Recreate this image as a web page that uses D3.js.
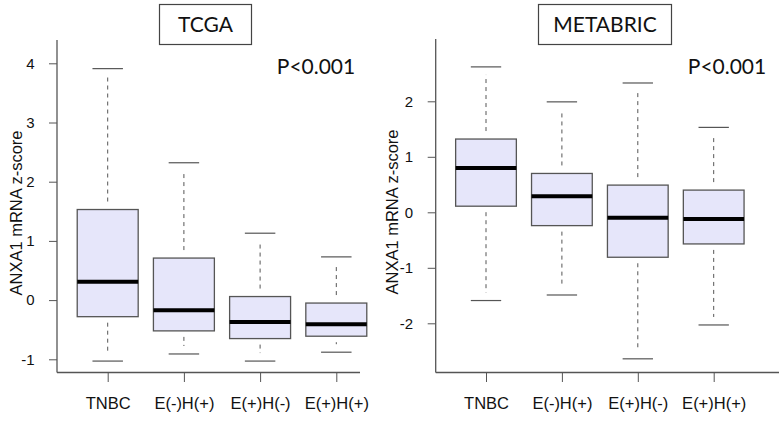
<!DOCTYPE html>
<html>
<head>
<meta charset="utf-8">
<script src="https://cdn.jsdelivr.net/npm/d3@7"></script>
<style>
  body { margin: 0; background: #fff; }
  svg { display: block; }
  .arial { font-family: 'Liberation Sans', 'Arimo', Arial, sans-serif; }
  .cal { font-family: 'Lato', 'Open Sans', sans-serif; }
</style>
</head>
<body>
<svg id="chart" width="784" height="422"></svg>
<script>
const categories = ["TNBC", "E(-)H(+)", "E(+)H(-)", "E(+)H(+)"];

// TCGA: [lower whisker, Q1, median, Q3, upper whisker]
const tcgaLow    = [-1.03, -0.91, -1.03, -0.88];
const tcgaQ1     = [-0.28, -0.52, -0.65, -0.61];
const tcgaMedian = [ 0.31, -0.17, -0.37, -0.41];
const tcgaQ3     = [ 1.53,  0.71,  0.06, -0.05];
const tcgaHigh   = [ 3.91,  2.32,  1.13,  0.73];
const tcgaTicks  = [-1, 0, 1, 2, 3, 4];

// METABRIC
const metaLow    = [-1.59, -1.49, -2.64, -2.03];
const metaQ1     = [ 0.11, -0.24, -0.81, -0.57];
const metaMedian = [ 0.80,  0.29, -0.10, -0.12];
const metaQ3     = [ 1.32,  0.70,  0.49,  0.40];
const metaHigh   = [ 2.62,  1.99,  2.33,  1.53];
const metaTicks  = [-2, -1, 0, 1, 2];

const titles = ["TCGA", "METABRIC"];
const pLabel = "P<0.001";
const yLabel = "ANXA1 mRNA z-score";

const svg = d3.select("#chart");
const LINE = "#555";
const FILL = "#e6e6fa";

const panels = [
  {
    title: titles[0],
    low: tcgaLow, q1: tcgaQ1, med: tcgaMedian, q3: tcgaQ3, high: tcgaHigh, ticks: tcgaTicks,
    y: d3.scaleLinear().domain([-1, 4]).range([359.3, 63.3]),
    x: d3.scalePoint().domain(categories).range([107.7, 336.3]),
    axisX: 57, axisTop: 40, axisBottom: 372.5, xAxisEnd: 360,
    titleBox: [159.5, 4.5, 92, 40], pX: 316, yLabX: 22, yLabY: 213
  },
  {
    title: titles[1],
    low: metaLow, q1: metaQ1, med: metaMedian, q3: metaQ3, high: metaHigh, ticks: metaTicks,
    y: d3.scaleLinear().domain([-2, 2]).range([323.3, 101.3]),
    x: d3.scalePoint().domain(categories).range([486, 713.7]),
    axisX: 435.7, axisTop: 39, axisBottom: 372.5, xAxisEnd: 779,
    titleBox: [538.5, 4.5, 133, 40], pX: 727, yLabX: 398, yLabY: 212
  }
];

panels.forEach(p => {
  const g = svg.append("g");
  const step = p.x.step();
  const bw = step * 0.8;

  // y axis
  const yAxis = d3.axisLeft(p.y).tickValues(p.ticks).tickSize(8).tickPadding(14.5)
    .tickFormat(d => d);
  const ya = g.append("g").attr("transform", `translate(${p.axisX},0)`).call(yAxis)
    .attr("font-family", null).attr("font-size", null).attr("class", "arial");
  ya.select(".domain").remove();
  ya.selectAll(".tick line").attr("stroke", LINE);
  ya.selectAll(".tick text").style("font-size", "15px").attr("fill", "#111");
  g.append("line").attr("x1", p.axisX).attr("x2", p.axisX)
    .attr("y1", p.axisTop).attr("y2", p.axisBottom).attr("stroke", LINE).attr("stroke-width", 1.3);

  // x axis
  const xAxis = d3.axisBottom(p.x).tickSize(9.5).tickPadding(15);
  const xa = g.append("g").attr("transform", `translate(0,${p.axisBottom})`).call(xAxis)
    .attr("font-family", null).attr("font-size", null).attr("class", "arial");
  xa.select(".domain").remove();
  xa.selectAll(".tick line").attr("stroke", LINE);
  xa.selectAll(".tick text").style("font-size", "16.5px").attr("fill", "#111");
  g.append("line").attr("x1", p.axisX).attr("x2", p.xAxisEnd)
    .attr("y1", p.axisBottom).attr("y2", p.axisBottom).attr("stroke", LINE).attr("stroke-width", 1.3);

  // boxes
  categories.forEach((c, i) => {
    const cx = p.x(c);
    g.append("line").attr("x1", cx).attr("x2", cx)
      .attr("y1", p.y(p.q3[i]) - 8).attr("y2", p.y(p.high[i]) + 8)
      .attr("stroke", LINE).attr("stroke-dasharray", "4,4");
    g.append("line").attr("x1", cx).attr("x2", cx)
      .attr("y1", p.y(p.q1[i]) + 6).attr("y2", p.y(p.low[i]) - 8)
      .attr("stroke", LINE).attr("stroke-dasharray", "4,4");
    [p.high[i], p.low[i]].forEach(v => {
      g.append("line").attr("x1", cx - bw / 4).attr("x2", cx + bw / 4)
        .attr("y1", p.y(v)).attr("y2", p.y(v))
        .attr("stroke", LINE).attr("stroke-width", 1.2);
    });
    g.append("rect").attr("x", cx - bw / 2).attr("width", bw)
      .attr("y", p.y(p.q3[i])).attr("height", p.y(p.q1[i]) - p.y(p.q3[i]))
      .attr("fill", FILL).attr("stroke", LINE).attr("stroke-width", 1.3);
    g.append("line").attr("x1", cx - bw / 2).attr("x2", cx + bw / 2)
      .attr("y1", p.y(p.med[i])).attr("y2", p.y(p.med[i]))
      .attr("stroke", "#000").attr("stroke-width", 4);
  });

  // y label
  g.append("text").attr("class", "arial")
    .attr("transform", `translate(${p.yLabX},${p.yLabY}) rotate(-90)`)
    .attr("text-anchor", "middle")
    .style("font-size", "16.5px").attr("fill", "#111")
    .text(yLabel);

  // title box
  const [tx, ty, tw, th] = p.titleBox;
  g.append("rect").attr("x", tx).attr("y", ty).attr("width", tw).attr("height", th)
    .attr("fill", "#fff").attr("stroke", "#444").attr("stroke-width", 1.2);
  g.append("text").attr("class", "cal").attr("x", tx + tw / 2).attr("y", ty + 27.8)
    .attr("text-anchor", "middle")
    .style("font-size", "21px").attr("fill", "#111").text(p.title);

  // p value
  g.append("text").attr("class", "cal").attr("x", p.pX).attr("y", 74)
    .attr("text-anchor", "middle")
    .style("font-size", "21px").attr("fill", "#111").text(pLabel);
});
</script>
</body>
</html>
